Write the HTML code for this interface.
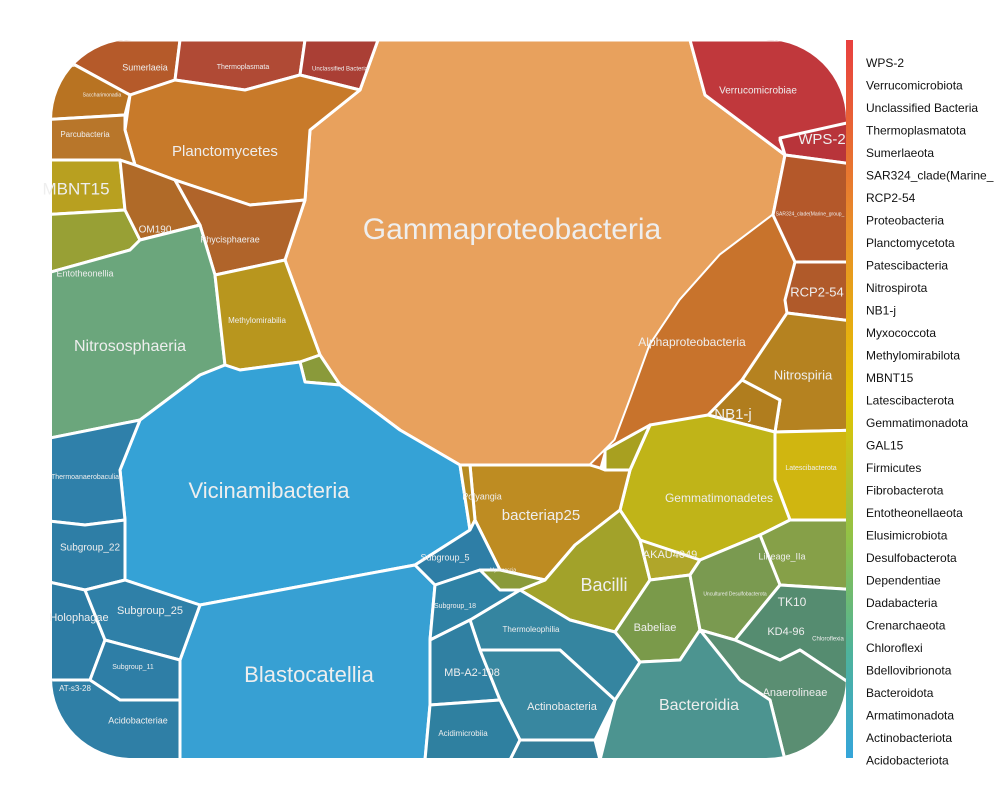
<!DOCTYPE html>
<html><head><meta charset="utf-8">
<style>
body{margin:0;background:#fff;}
svg{display:block;font-family:"Liberation Sans",sans-serif;}
</style></head>
<body>
<svg id="chart" width="1000" height="800">
<defs>
<clipPath id="clip"><rect x="52" y="40" width="794" height="718" rx="80" ry="80"/></clipPath>
<linearGradient id="lg" x1="0" y1="0" x2="0" y2="1">
<stop offset="0" stop-color="#e8403f"/><stop offset="0.25" stop-color="#e88a2a"/>
<stop offset="0.5" stop-color="#e4c400"/><stop offset="0.7" stop-color="#8ec24a"/>
<stop offset="0.85" stop-color="#4fb39a"/><stop offset="1" stop-color="#35a5da"/>
</linearGradient>
</defs>
<g id="cells" clip-path="url(#clip)"></g>
<g id="labels"></g>
<rect x="846" y="40" width="7" height="718" fill="url(#lg)"/>
<g id="legend"></g>
</svg>
<script>
const phyla = ["WPS-2","Verrucomicrobiota","Unclassified Bacteria","Thermoplasmatota","Sumerlaeota","SAR324_clade(Marine_","RCP2-54","Proteobacteria","Planctomycetota","Patescibacteria","Nitrospirota","NB1-j","Myxococcota","Methylomirabilota","MBNT15","Latescibacterota","Gemmatimonadota","GAL15","Firmicutes","Fibrobacterota","Entotheonellaeota","Elusimicrobiota","Desulfobacterota","Dependentiae","Dadabacteria","Crenarchaeota","Chloroflexi","Bdellovibrionota","Bacteroidota","Armatimonadota","Actinobacteriota","Acidobacteriota"];
const cellNames = ["Gammaproteobacteria","Alphaproteobacteria","Sumerlaeia","Thermoplasmata","Unclassified Bacteria","Planctomycetes","Saccharimonadia","Parcubacteria","MBNT15","Entotheonellia","OM190","Phycisphaerae","Nitrososphaeria","Methylomirabilia","Small-Methylo","Vicinamibacteria","Blastocatellia","Thermoanaerobaculia","Subgroup_22","Holophagae","Subgroup_25","Subgroup_11","Acidobacteriae","Verrucomicrobiae","WPS-2","SAR324","RCP2-54","Nitrospiria","NB1-j","Latescibacterota","Gemmatimonadetes","BD2","Lineage_IIa","bacteriap25","Polyangia","Subgroup_5","Bacilli","AKAU4049","Babeliae","Uncultured Desulfobacterota","TK10-KD4-96","Anaerolineae","Bacteroidia","Thermoleophilia","Subgroup_18","MB-A2-108","Actinobacteria","Acidimicrobiia","Actino-small","Myxococcia"];
const cellColors = ["#e8a15d","#c8732c","#b55a2a","#b04a35","#aa3f35","#c87a2a","#b87322","#b8762a","#b8a020","#98a035","#b06a28","#b0642a","#6ba67c","#b8961e","#8a9a3a","#35a2d6","#37a0d3","#2f80aa","#2e7ea6","#2d7ca4","#2f80a8","#2e7ea6","#2f7fa6","#c0383c","#b8343a","#b4582a","#b05a2a","#b58220","#b07d1e","#d0b610","#c0b418","#a8a020","#86a048","#be8c22","#b78b20","#2e7ea6","#a2a22a","#b0a62a","#7a9a4a","#7a9a50","#558c70","#5a8e72","#4c9490","#3585a0","#2f82a5","#3080a2","#3887a0","#2f80a0","#347e9a","#8a9a3a"];
const cellShapes = [
[[378,40],[690,40],[705,95],[785,155],[773,215],[720,255],[680,300],[650,345],[630,400],[615,440],[590,465],[460,465],[400,430],[340,385],[320,355],[285,260],[305,200],[310,130],[360,90]],
[[590,465],[615,440],[630,400],[650,345],[680,300],[720,255],[773,215],[795,262],[785,300],[787,313],[742,380],[708,415],[650,425],[605,450],[600,468]],
[[60,40],[180,40],[175,80],[130,95],[75,65]],
[[180,40],[305,40],[300,75],[245,90],[175,80]],
[[305,40],[378,40],[360,90],[300,75]],
[[130,95],[175,80],[245,90],[300,75],[360,90],[310,130],[305,200],[250,205],[175,180],[135,165],[125,130]],
[[40,70],[75,65],[130,95],[125,115],[40,120]],
[[40,120],[125,115],[125,130],[135,165],[120,160],[40,160]],
[[40,160],[120,160],[125,210],[40,215]],
[[40,215],[125,210],[140,240],[130,250],[40,275]],
[[120,160],[135,165],[175,180],[200,225],[140,240],[125,210]],
[[175,180],[250,205],[305,200],[285,260],[215,275],[200,225]],
[[40,275],[130,250],[140,240],[200,225],[215,275],[225,365],[200,375],[140,420],[40,440]],
[[215,275],[285,260],[320,355],[300,362],[240,370],[225,365]],
[[300,362],[320,355],[340,385],[305,382]],
[[140,420],[200,375],[225,365],[240,370],[300,362],[305,382],[340,385],[400,430],[460,465],[470,530],[415,565],[200,605],[125,580],[125,520],[120,470]],
[[200,605],[415,565],[435,585],[430,640],[430,705],[425,760],[180,760],[180,660]],
[[40,440],[140,420],[120,470],[125,520],[85,525],[40,520]],
[[40,520],[85,525],[125,520],[125,580],[85,590],[40,580]],
[[40,580],[85,590],[105,640],[90,680],[40,680]],
[[85,590],[125,580],[200,605],[180,660],[105,640]],
[[105,640],[180,660],[180,700],[120,700],[90,680]],
[[40,680],[90,680],[120,700],[180,700],[180,760],[40,760]],
[[690,40],[860,40],[860,120],[780,140],[785,155],[705,95]],
[[780,138],[860,120],[860,165],[785,155]],
[[785,155],[860,165],[860,262],[795,262],[773,215]],
[[795,262],[860,262],[860,322],[787,313],[785,300]],
[[742,380],[787,313],[860,322],[860,430],[775,432],[780,400]],
[[708,415],[742,380],[780,400],[775,432]],
[[775,432],[860,430],[860,520],[790,520],[775,480]],
[[650,425],[708,415],[775,432],[775,480],[790,520],[760,535],[700,560],[640,540],[620,510],[630,470]],
[[605,450],[650,425],[630,470],[605,470]],
[[760,535],[790,520],[860,520],[860,590],[780,585]],
[[470,465],[590,465],[600,468],[605,470],[630,470],[620,510],[575,545],[545,580],[500,570],[475,520]],
[[460,465],[470,465],[475,520],[470,530]],
[[415,565],[470,530],[475,520],[500,570],[480,570],[435,585]],
[[520,590],[545,580],[575,545],[620,510],[640,540],[650,580],[615,632],[570,620]],
[[640,540],[700,560],[690,575],[650,580]],
[[615,632],[650,580],[690,575],[700,630],[680,660],[640,662]],
[[690,575],[700,560],[760,535],[780,585],[735,640],[700,630]],
[[735,640],[780,585],[860,590],[860,690],[800,650],[780,660]],
[[700,630],[735,640],[780,660],[800,650],[860,690],[860,760],[785,760],[770,700],[740,680]],
[[640,662],[680,660],[700,630],[740,680],[770,700],[785,760],[600,760],[615,700]],
[[470,620],[520,590],[570,620],[615,632],[640,662],[615,700],[560,650],[480,650]],
[[435,585],[480,570],[500,570],[520,590],[470,620],[430,640]],
[[430,640],[470,620],[480,650],[500,700],[430,705]],
[[480,650],[560,650],[615,700],[595,740],[520,740],[500,700]],
[[430,705],[500,700],[520,740],[510,760],[425,760]],
[[520,740],[595,740],[600,760],[510,760]],
[[480,570],[500,570],[545,580],[520,590],[500,590]]
];
const labelText = ["Gammaproteobacteria","Vicinamibacteria","Blastocatellia","Planctomycetes","Nitrososphaeria","MBNT15","Bacilli","bacteriap25","Bacteroidia","Gemmatimonadetes","Alphaproteobacteria","Nitrospiria","NB1-j","RCP2-54","WPS-2","Verrucomicrobiae","Subgroup_22","Subgroup_25","Holophagae","Thermoleophilia","MB-A2-108","Actinobacteria","Babeliae","AKAU4049","TK10","KD4-96","Anaerolineae","Lineage_IIa","Polyangia","Subgroup_5","Phycisphaerae","OM190","Entotheonellia","Parcubacteria","Sumerlaeia","Thermoplasmata","Unclassified Bacteria","Methylomirabilia","Subgroup_11","Acidobacteriae","AT-s3-28","Thermoanaerobaculia","Acidimicrobiia","Subgroup_18","Latescibacterota","Saccharimonadia","Chloroflexia","Uncultured Desulfobacterota","SAR324_clade(Marine_group_","Myxococcia"];
const labelSize = [30,22,22,15,16,17,18,15,16,12,12,13,15,13,15,10,10,11,11,8,11,11,11,11,12,11,11,9,9,9,9,10,9,8,9,7,6,8,7,9,8,7,8,7,7,5,6,5,5,5];
const labelX = [512,269,309,225,130,76,604,541,699,719,692,803,733,817,822,758,90,150,79,531,472,562,655,670,792,786,795,782,482,445,230,155,85,85,145,243,340,257,133,138,75,85,463,455,811,102,828,735,810,503];
const labelY = [231,492,676,152,347,190,586,516,706,499,343,376,415,293,140,91,548,611,618,630,673,707,628,555,603,632,693,557,497,558,240,230,274,135,68,67,69,321,667,721,689,477,734,606,468,95,639,594,214,570];
const cellsG = document.getElementById('cells');
cellShapes.forEach((pts,i)=>{
  const p=document.createElementNS('http://www.w3.org/2000/svg','polygon');
  p.setAttribute('points',pts.map(q=>q.join(',')).join(' '));
  p.setAttribute('fill',cellColors[i]);
  p.setAttribute('stroke','#fff');
  p.setAttribute('stroke-width', i===1 ? '1' : '3');
  p.setAttribute('stroke-linejoin','round');
  
  
  cellsG.appendChild(p);
});
const labG=document.getElementById('labels');
labelText.forEach((t,i)=>{
  const e=document.createElementNS('http://www.w3.org/2000/svg','text');
  e.setAttribute('x',labelX[i]);e.setAttribute('y',labelY[i]);
  e.setAttribute('font-size',labelSize[i]);e.setAttribute('fill','#eeeeee');
  e.setAttribute('text-anchor','middle');e.setAttribute('dominant-baseline','middle');
  e.textContent=t;
  
  
  labG.appendChild(e);
});
const legG=document.getElementById('legend');
phyla.forEach((t,i)=>{
  const e=document.createElementNS('http://www.w3.org/2000/svg','text');
  e.setAttribute('x',866);e.setAttribute('y',67+i*22.5);
  e.setAttribute('font-size',12);e.setAttribute('fill','#111');
  e.textContent=t;
  
  
  legG.appendChild(e);
});
</script>
</body></html>
